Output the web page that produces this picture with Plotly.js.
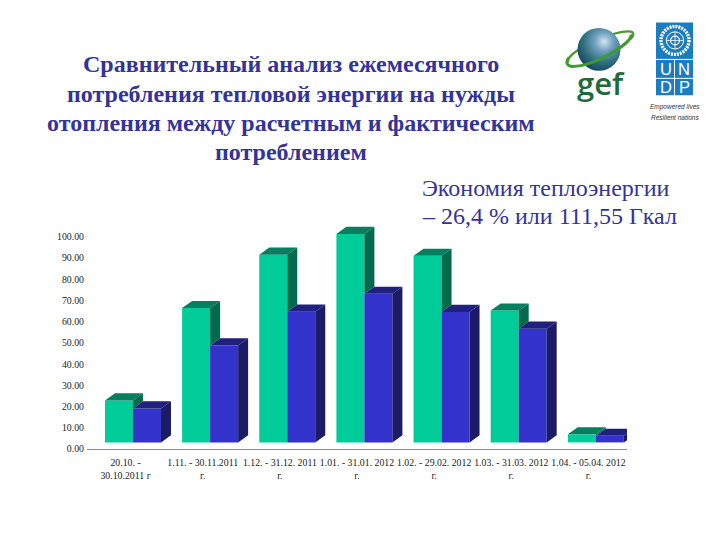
<!DOCTYPE html>
<html>
<head>
<meta charset="utf-8">
<script src="https://cdn.plot.ly/plotly-3.0.1.min.js"></script>
<style>html,body{margin:0;padding:0;background:#fff}#chart{width:720px;height:540px}</style>
</head>
<body>
<div id="chart"></div>
<script>
var categories = ["20.10. -<br>30.10.2011 г", "1.11. - 30.11.2011<br>г.", "1.12. - 31.12. 2011<br>г.", "1.01. - 31.01. 2012<br>г.", "1.02. - 29.02. 2012<br>г.", "1.03. - 31.03. 2012<br>г.", "1.04. - 05.04. 2012<br>г."];
var calculated = [19.75, 63.3, 88.4, 98.2, 87.9, 62.1, 3.8];
var actual = [16.0, 45.7, 61.6, 70.0, 61.5, 53.6, 3.1];
var yTicks = [0, 10, 20, 30, 40, 50, 60, 70, 80, 90, 100];
var titleLines = ["Сравнительный анализ ежемесячного", "потребления тепловой энергии на нужды", "отопления между расчетным и фактическим", "потреблением"];
var noteLines = ["Экономия теплоэнергии", "– 26,4 % или 111,55 Гкал"];

var GREEN = "#00CC99", GREEN_TOP = "#067F60", GREEN_SIDE = "#046A4E";
var BLUE = "#3333CC", BLUE_TOP = "#20207F", BLUE_SIDE = "#1C1C66";
var TEXT = "#333399";

// plot frame in pixels
var L = 87, R = 627, B = 449.3, H = 225.4;
var pxX = 540 / 7, pxY = 212.6 / 100;          // pixels per x unit / per y unit
var px = function (v) { return (v - L) / (R - L); };
var py = function (v) { return (B - v) / H; };

// false-3D geometry, data units
var floor = 6.6 / pxY, shift = 7.4 / pxX, barW = 28 / pxX;
var dx = 10 / pxX, dy = 7.2 / pxY;

var idx = categories.map(function (_, i) { return i; });
var xs = idx.map(function (i) { return i + shift; });

function face(build) {
  var X = [], Y = [];
  idx.forEach(function (i) {
    build(i, X, Y);
    X.push(null); Y.push(null);
  });
  return { x: X, y: Y };
}
function poly(X, Y, pts) {
  pts.forEach(function (p) { X.push(p[0]); Y.push(p[1]); });
  X.push(pts[0][0]); Y.push(pts[0][1]);
}
function faceTrace(f, color, name) {
  return { type: "scatter", mode: "lines", x: f.x, y: f.y, fill: "toself", fillcolor: color,
           line: { width: 0, color: color }, hoverinfo: "skip", showlegend: false, name: name };
}

var greenTop = face(function (i, X, Y) {
  var c = xs[i], t = calculated[i] + floor;
  poly(X, Y, [[c - barW, t], [c, t], [c + dx, t + dy], [c - barW + dx, t + dy]]);
});
var greenSide = face(function (i, X, Y) {
  var c = xs[i], t = calculated[i] + floor, b = actual[i] + floor;
  poly(X, Y, [[c, t], [c + dx, t + dy], [c + dx, Math.min(b + dy, t + dy)], [c, b]]);
});
var blueTop = face(function (i, X, Y) {
  var c = xs[i], t = actual[i] + floor;
  poly(X, Y, [[c, t], [c + barW, t], [c + barW + dx, t + dy], [c + dx, t + dy]]);
});
var blueSide = face(function (i, X, Y) {
  var c = xs[i] + barW, t = actual[i] + floor;
  poly(X, Y, [[c, floor], [c, t], [c + dx, t + dy], [c + dx, floor + dy]]);
});

var traces = [
  { type: "bar", name: "Расчетное", x: xs, y: calculated, base: floor, marker: { color: GREEN, line: { width: 0 } }, width: barW, offset: -barW },
  { type: "bar", name: "Фактическое", x: xs, y: actual, base: floor, marker: { color: BLUE, line: { width: 0 } }, width: barW, offset: 0 },
  faceTrace(greenTop, GREEN_TOP, "top"),
  faceTrace(greenSide, GREEN_SIDE, "side"),
  faceTrace(blueTop, BLUE_TOP, "top"),
  faceTrace(blueSide, BLUE_SIDE, "side")
];

var annotations = [];
titleLines.forEach(function (t, i) {
  annotations.push({ text: t, xref: "paper", yref: "paper", x: px(291), y: py(64 + i * 29.2), xanchor: "center", yanchor: "middle",
    showarrow: false, font: { family: "Liberation Serif", size: 24, color: TEXT, weight: 700 } });
});
noteLines.forEach(function (t, i) {
  annotations.push({ text: t, xref: "paper", yref: "paper", x: px(419.5), y: py(187.5 + i * 28), xanchor: "left", yanchor: "middle",
    showarrow: false, font: { family: "Liberation Serif", size: 24, color: TEXT } });
});
function label(t, x, y, size, color, extra) {
  var f = Object.assign({ family: "Liberation Sans", size: size, color: color }, extra || {});
  annotations.push({ text: t, xref: "paper", yref: "paper", x: px(x), y: py(y), xanchor: "center", yanchor: "middle", showarrow: false, font: f, borderpad: 0 });
}
label("gef", 600.5, 83, 31, "#1E6B3A", { family: "Open Sans", weight: 600 });
label("U", 665.5, 68.5, 16.5, "#FFFFFF");
label("N", 684, 68.5, 16.5, "#FFFFFF");
label("D", 665.5, 87, 16.5, "#FFFFFF");
label("P", 684, 87, 16.5, "#FFFFFF");
label("Empowered lives", 675, 107, 6.5, "#333333", { style: "italic" });
label("Resilient nations", 675, 117, 6.5, "#333333", { style: "italic" });

var globeSvg = '<svg xmlns="http://www.w3.org/2000/svg" viewBox="0 0 70 50" width="280" height="200">' +
  '<defs><radialGradient id="g" cx="0.62" cy="0.32" r="0.75"><stop offset="0" stop-color="#D5E4EE"/><stop offset="0.3" stop-color="#6F9FBE"/><stop offset="0.65" stop-color="#2F6F7E"/><stop offset="1" stop-color="#143F5A"/></radialGradient></defs>' +
  '<path d="M3 37 C 0 27, 45 6, 64 6 C 69 6, 70 10, 65 14" fill="none" stroke="#4E9A2E" stroke-width="2.2"/>' +
  '<circle cx="34" cy="24" r="21.5" fill="url(#g)"/>' +
  '<path d="M66 9 C 68 18, 28 41, 8 41 C 2 41, 0 37, 4 32" fill="none" stroke="#3F9A34" stroke-width="3"/>' +
  '</svg>';
var unSvg = '<svg xmlns="http://www.w3.org/2000/svg" viewBox="0 0 32 32" width="160" height="160">' +
  '<g fill="none" stroke="#FFFFFF"><circle cx="16" cy="16" r="14" stroke-width="3.4" stroke-dasharray="2 1"/>' +
  '<circle cx="16" cy="16" r="8.6" stroke-width="1"/><circle cx="16" cy="16" r="4.4" stroke-width="1.2"/>' +
  '<path d="M16 7.5V24.500M7.5 16H24.500" stroke-width="0.8"/></g></svg>';
function dataUri(s) { return "data:image/svg+xml;charset=utf-8," + encodeURIComponent(s); }

var layout = {
  width: 720, height: 540,
  margin: { l: L, r: 720 - R, t: B - H, b: 540 - B, pad: 0 },
  paper_bgcolor: "#FFFFFF", plot_bgcolor: "#FFFFFF",
  showlegend: false,
  barmode: "overlay",
  xaxis: {
    type: "linear", range: [-0.5, 6.5], tickmode: "array", tickvals: idx, ticktext: categories,
    showgrid: false, zeroline: false, showline: true, linecolor: "#8C8C8C", linewidth: 1, ticks: "", ticklabelstandoff: 4,
    tickangle: 0, tickfont: { family: "Liberation Serif", size: 9.8, color: "#222222" }
  },
  yaxis: {
    range: [0, H / pxY], tickmode: "array", tickvals: yTicks, tickformat: ".2f", ticklabelstandoff: 2,
    showgrid: false, zeroline: false, showline: false, ticks: "",
    tickfont: { family: "Liberation Serif", size: 9.8, color: "#222222" }
  },
  annotations: annotations,
  shapes: [
    { type: "rect", layer: "below", xref: "paper", yref: "paper", x0: px(656), x1: px(693), y0: py(22), y1: py(95), fillcolor: "#1A7DC0", line: { width: 0 } },
    { type: "line", layer: "below", xref: "paper", yref: "paper", x0: px(656), x1: px(693), y0: py(59), y1: py(59), line: { color: "#FFFFFF", width: 1 } },
    { type: "line", layer: "below", xref: "paper", yref: "paper", x0: px(656), x1: px(693), y0: py(78), y1: py(78), line: { color: "#FFFFFF", width: 1 } },
    { type: "line", layer: "below", xref: "paper", yref: "paper", x0: px(674.5), x1: px(674.5), y0: py(59), y1: py(95), line: { color: "#FFFFFF", width: 1 } }
  ],
  images: [
    { source: dataUri(globeSvg), xref: "paper", yref: "paper", x: px(565), y: py(25), sizex: 70 / 540, sizey: 50 / H, sizing: "stretch", xanchor: "left", yanchor: "top", layer: "above" },
    { source: dataUri(unSvg), xref: "paper", yref: "paper", x: px(659), y: py(24), sizex: 32 / 540, sizey: 32 / H, sizing: "stretch", xanchor: "left", yanchor: "top", layer: "above" }
  ]
};
Plotly.newPlot("chart", traces, layout, { displayModeBar: false, staticPlot: true });
</script>
</body>
</html>
